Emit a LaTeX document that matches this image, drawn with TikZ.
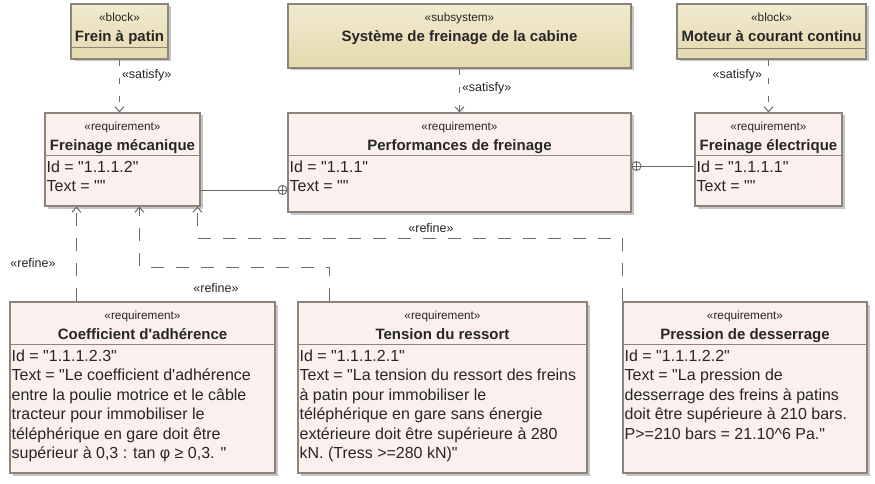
\documentclass[tikz,border=0pt]{standalone}
\usepackage{fontspec}
\setmainfont{Liberation Sans}[Ligatures=TeXOff]
\usepackage{xcolor}
\usepackage{tikz}
\usetikzlibrary{positioning,arrows.meta,shadows}

\definecolor{blocklight}{RGB}{241,234,207}
\definecolor{blockdark}{RGB}{228,218,174}
\definecolor{reqfill}{RGB}{251,240,237}
\definecolor{boxline}{RGB}{140,132,122}
\definecolor{wire}{RGB}{105,105,105}
\definecolor{ink}{RGB}{38,38,38}

\begin{document}
\begin{tikzpicture}[
    x=1pt, y=-1pt, % one unit per pixel of the screenshot
    box/.style={rectangle,draw=boxline,line width=1.1pt,inner sep=0pt,
      drop shadow={shadow xshift=2.5pt,shadow yshift=-2.5pt,fill=black!45,opacity=.5}},
    block/.style={box,top color=blocklight,bottom color=blockdark},
    req/.style={box,fill=reqfill},
    stereo/.style={font={\fontsize{11.8pt}{12pt}\selectfont},text=ink,inner sep=0pt,text height=8.5pt,text depth=2.5pt},
    title/.style={font={\bfseries\fontsize{15pt}{16pt}\selectfont},text=ink,inner sep=0pt,text height=11pt,text depth=3pt},
    body/.style={font={\fontsize{16pt}{19.5pt}\selectfont},text=ink,inner sep=0pt,align=left},
    divider/.style={draw=boxline,line width=1pt},
    rellabel/.style={font={\fontsize{12.5pt}{13pt}\selectfont},text=ink,inner sep=0pt},
    satisfy/.style={draw=wire,line width=1pt,dash pattern=on 6pt off 12pt,-{Straight Barb[length=5pt,width=9pt]}},
    refine/.style={draw=wire,line width=1pt,dash pattern=on 13pt off 12pt,-{Straight Barb[length=5pt,width=9pt]}},
    contain/.style={draw=wire,line width=1pt},
    oplus/.style={circle,draw=wire,line width=.9pt,fill=white,inner sep=0pt,minimum size=9pt,
      path picture={\draw[wire,line width=.8pt]
        (path picture bounding box.north) -- (path picture bounding box.south)
        (path picture bounding box.west) -- (path picture bounding box.east);}}
]
    \path[use as bounding box,fill=white] (0,0) rectangle (875,484);

    % blocks on top
    \node[block,minimum width=97pt,minimum height=55pt] (fp) at (119.5,31.5) {};
    \node[stereo,below=9.5pt of fp.north] (fp-st) {«block»};
    \node[title,below=6pt of fp-st] (fp-ti) {Frein à patin};
    \draw[divider] ([yshift=-44pt]fp.north west) -- ([yshift=-44pt]fp.north east);

    \node[block,minimum width=343pt,minimum height=64pt] (sys) at (459.5,36) {};
    \node[stereo,below=9.5pt of sys.north] (sys-st) {«subsystem»};
    \node[title,below=6pt of sys-st] (sys-ti) {Système de freinage de la cabine};

    \node[block,minimum width=189pt,minimum height=55pt] (mot) at (771.5,31.5) {};
    \node[stereo,below=9.5pt of mot.north] (mot-st) {«block»};
    \node[title,below=6pt of mot-st] (mot-ti) {Moteur à courant continu};
    \draw[divider] ([yshift=-45pt]mot.north west) -- ([yshift=-45pt]mot.north east);

    % requirements, first row
    \node[req,minimum width=155pt,minimum height=93pt] (fm) at (122.5,159.5) {};
    \node[stereo,below=9.5pt of fm.north] (fm-st) {«requirement»};
    \node[title,below=6pt of fm-st] (fm-ti) {Freinage mécanique};
    \draw[divider] ([yshift=-43pt]fm.north west) -- ([yshift=-43pt]fm.north east);
    \node[body,below right=48pt and 2pt of fm.north west] (fm-tx) {Id = "1.1.1.2"\\Text = ""};

    \node[req,minimum width=343pt,minimum height=99pt] (perf) at (459.5,162.5) {};
    \node[stereo,below=9.5pt of perf.north] (perf-st) {«requirement»};
    \node[title,below=6pt of perf-st] (perf-ti) {Performances de freinage};
    \draw[divider] ([yshift=-43pt]perf.north west) -- ([yshift=-43pt]perf.north east);
    \node[body,below right=48pt and 2pt of perf.north west] (perf-tx) {Id = "1.1.1"\\Text = ""};

    \node[req,minimum width=147pt,minimum height=93pt] (fe) at (768.5,159.5) {};
    \node[stereo,below=9.5pt of fe.north] (fe-st) {«requirement»};
    \node[title,below=6pt of fe-st] (fe-ti) {Freinage électrique};
    \draw[divider] ([yshift=-43pt]fe.north west) -- ([yshift=-43pt]fe.north east);
    \node[body,below right=48pt and 2pt of fe.north west] (fe-tx) {Id = "1.1.1.1"\\Text = ""};

    % requirements, second row
    \node[req,minimum width=265pt,minimum height=171pt] (coef) at (142.5,387.5) {};
    \node[stereo,below=9.5pt of coef.north] (coef-st) {«requirement»};
    \node[title,below=6pt of coef-st] (coef-ti) {Coefficient d'adhérence};
    \draw[divider] ([yshift=-43pt]coef.north west) -- ([yshift=-43pt]coef.north east);
    \node[body,below right=48pt and 2pt of coef.north west] (coef-tx)
      {Id = "1.1.1.2.3"\\Text = "Le coefficient d'adhérence\\entre la poulie motrice et le câble\\tracteur pour immobiliser le\\téléphérique en gare doit être\\supérieur à 0,3 : tan φ ≥ 0,3. "};

    \node[req,minimum width=289pt,minimum height=171pt] (tens) at (442.5,387.5) {};
    \node[stereo,below=9.5pt of tens.north] (tens-st) {«requirement»};
    \node[title,below=6pt of tens-st] (tens-ti) {Tension du ressort};
    \draw[divider] ([yshift=-43pt]tens.north west) -- ([yshift=-43pt]tens.north east);
    \node[body,below right=48pt and 2pt of tens.north west] (tens-tx)
      {Id = "1.1.1.2.1"\\Text = "La tension du ressort des freins\\à patin pour immobiliser le\\téléphérique en gare sans énergie\\extérieure doit être supérieure à 280\\kN. (Tress >=280 kN)"};

    \node[req,minimum width=244pt,minimum height=171pt] (pres) at (745,387.5) {};
    \node[stereo,below=9.5pt of pres.north] (pres-st) {«requirement»};
    \node[title,below=6pt of pres-st] (pres-ti) {Pression de desserrage};
    \draw[divider] ([yshift=-43pt]pres.north west) -- ([yshift=-43pt]pres.north east);
    \node[body,below right=48pt and 2pt of pres.north west] (pres-tx)
      {Id = "1.1.1.2.2"\\Text = "La pression de\\desserrage des freins à patins\\doit être supérieure à 210 bars.\\P>=210 bars = 21.10\textasciicircum6 Pa."};

    % satisfy links
    \draw[satisfy] (fp.south) -- (fp.south |- fm.north) node[rellabel,right=2pt,pos=.3] (sat-fp) {«satisfy»};
    \draw[satisfy] (sys.south) -- (perf.north) node[rellabel,right=2pt,pos=.44] (sat-sys) {«satisfy»};
    \draw[satisfy] (mot.south -| fe.north) -- (fe.north) node[rellabel,left=6pt,pos=.3] (sat-mot) {«satisfy»};

    % containment
    \node[oplus,anchor=east] (perf-in) at (perf.west |- 0,190) {};
    \draw[contain] (fm.east |- perf-in) -- (perf-in);
    \node[oplus,anchor=west] (perf-out) at (perf.east |- 0,166) {};
    \draw[contain] (perf-out) -- (fe.west |- perf-out);

    % refine links
    \coordinate (r1) at ([xshift=67pt]coef.north west);
    \draw[refine] (r1) -- (r1 |- fm.south);
    \node[rellabel] (ref-coef) at (33,263) {«refine»};

    \coordinate (r2) at ([xshift=95pt]fm.south west);
    \draw[refine] ([xshift=32pt]tens.north west) |- (r2 |- 0,267) -- (r2);
    \node[rellabel] (ref-tens) at (216,288) {«refine»};

    \coordinate (r3) at ([xshift=-3pt]fm.south east);
    \draw[refine] (pres.north west) |- (r3 |- 0,238) -- (r3);
    \node[rellabel] (ref-pres) at (431,228) {«refine»};
\end{tikzpicture}
\end{document}
